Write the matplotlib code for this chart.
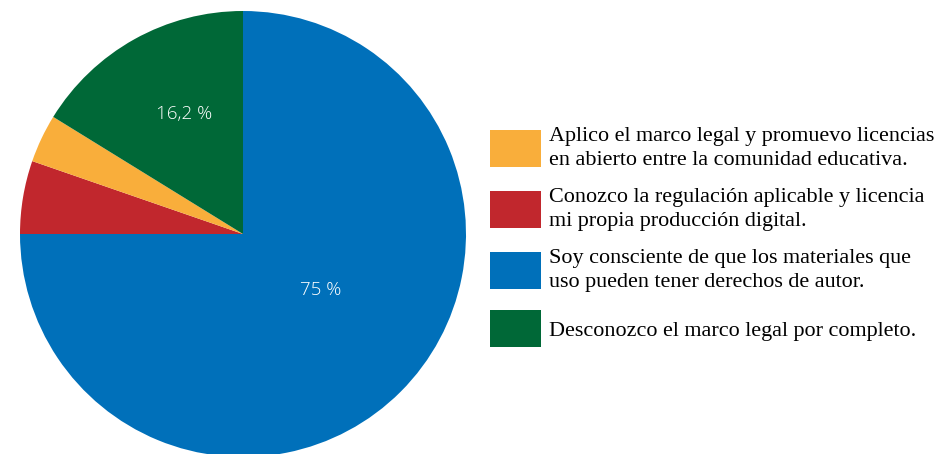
import matplotlib.pyplot as plt
import numpy as np

# data (clockwise from 12 o'clock)
categories = [
    "Soy consciente de que los materiales que\nuso pueden tener derechos de autor.",
    "Conozco la regulación aplicable y licencia\nmi propia producción digital.",
    "Aplico el marco legal y promuevo licencias\nen abierto entre la comunidad educativa.",
    "Desconozco el marco legal por completo.",
]
values = [75.0, 5.3, 3.5, 16.2]
labels = ["75 %", "", "", "16,2 %"]
colors = ["#0070BA", "#C1272D", "#F9AE3B", "#006837"]
legend_order = [2, 1, 0, 3]

fig = plt.figure(figsize=(9.37, 4.54), dpi=100)
ax = fig.add_axes([20 / 937, -3 / 454, 446 / 937, 446 / 454])

wedges, _ = ax.pie(values, colors=colors, startangle=90, counterclock=False,
                   radius=1, wedgeprops=dict(linewidth=0))
ax.set_xlim(-1, 1)
ax.set_ylim(-1, 1)
ax.set_aspect('equal')

# percentage labels, placed along each wedge
label_pos = {0: (0.43, 9), 3: (0.60, -3)}  # (radius, angle shift)
for i, w in enumerate(wedges):
    if not labels[i]:
        continue
    r, shift = label_pos[i]
    mid = np.deg2rad((w.theta1 + w.theta2) / 2 + shift)
    ax.text(r * np.cos(mid), r * np.sin(mid), labels[i], color='white',
            fontsize=13.5, family='Open Sans', weight='light',
            ha='center', va='center')

fs = 15.9
px = fs * 100 / 72
leg = ax.legend([wedges[i] for i in legend_order], [categories[i] for i in legend_order],
                loc='center left', bbox_to_anchor=(490 / 937, 0.477),
                bbox_transform=fig.transFigure, frameon=False,
                prop=dict(family='Liberation Serif', size=fs),
                handlelength=51 / px, handleheight=(37 / px - 0.245) / 0.65,
                handletextpad=8 / px,
                labelspacing=0.85, borderaxespad=0, borderpad=0)
for t in leg.get_texts():
    t.set_linespacing(1.3)

fig.savefig('out.png', dpi=100)
